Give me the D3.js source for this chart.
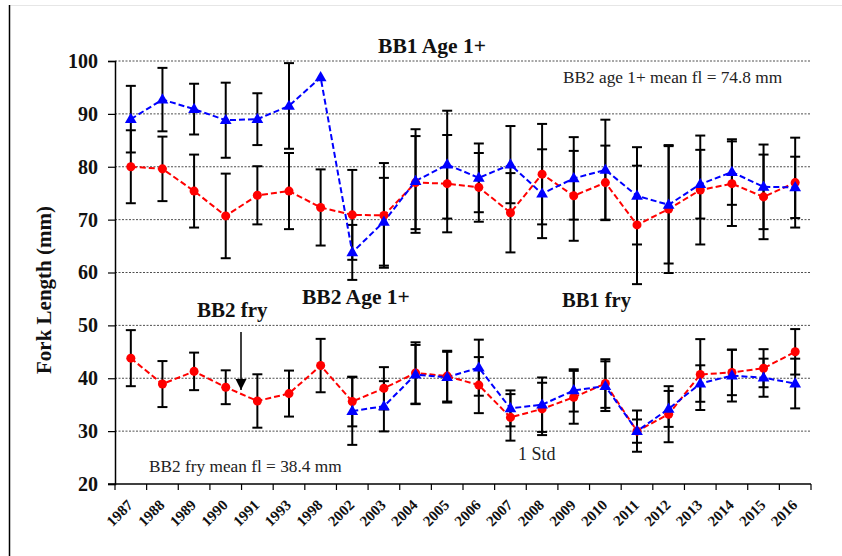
<!DOCTYPE html>
<html>
<head>
<meta charset="utf-8">
<script src="https://cdn.jsdelivr.net/npm/d3@7/dist/d3.min.js"></script>
<style>
  html, body { margin: 0; padding: 0; background: #fff; }
  svg { display: block; font-family: "Liberation Serif", "Times New Roman", serif; }
</style>
</head>
<body>
<svg id="chart" width="842" height="556"></svg>
<script>
// ---------- DATA ----------
const years = ["1987","1988","1989","1990","1991","1993","1998","2002","2003","2004","2005","2006","2007","2008","2009","2010","2011","2012","2013","2014","2015","2016"];

// Age 1+ (upper group)
const bb1Age1   = [89.0, 92.7, 90.9, 88.8, 89.0, 91.5, 96.9, 63.8, 69.6, 77.3, 80.4, 77.9, 80.4, 74.9, 77.8, 79.4, 74.5, 72.8, 76.7, 79.0, 76.2, 76.1];
const bb1Age1Sd = [6.3, 6.0, 4.8, 7.1, 4.9, 8.1, null, 5.2, 8.3, 9.8, 10.2, 6.5, 7.3, 8.4, 7.8, 9.5, 9.2, 11.1, 6.5, 6.2, 8.0, 5.8];
const bb2Age1   = [80.0, 79.6, 75.4, 70.7, 74.6, 75.4, 72.3, 70.9, 70.8, 77.0, 76.8, 76.1, 71.3, 78.6, 74.5, 77.0, 69.0, 72.0, 75.6, 76.8, 74.3, 77.0];
const bb2Age1Sd = [6.9, 6.1, 6.9, 8.0, 5.5, 7.2, 7.2, 8.5, 9.9, 8.8, 9.2, 6.5, 7.5, 9.5, 8.5, 7.0, 11.2, 12.1, 10.3, 8.0, 8.0, 8.5];

// Fry (lower group)
const bb1Fry   = [null, null, null, null, null, null, null, 33.8, 34.7, 40.7, 40.2, 42.0, 34.3, 35.0, 37.7, 38.5, 30.0, 34.2, 39.0, 40.5, 40.1, 39.0];
const bb1FrySd = [null, null, null, null, null, null, null, 6.4, 4.75, 5.6, 4.8, 5.3, 3.4, 5.15, 4.0, 4.7, 2.2, 3.4, 3.45, 4.9, 3.6, 4.7];
const bb2Fry   = [43.8, 38.9, 41.3, 38.3, 35.7, 37.1, 42.4, 35.6, 38.1, 41.0, 40.4, 38.7, 32.6, 34.2, 36.4, 39.0, 30.0, 33.2, 40.7, 41.1, 41.9, 45.0];
const bb2FrySd = [5.3, 4.35, 3.55, 3.2, 5.05, 4.35, 5.05, 4.7, 4.0, 5.8, 4.8, 5.3, 4.4, 4.95, 5.0, 4.6, 3.9, 5.3, 6.7, 4.3, 3.6, 4.3];

const yTicks = [20, 30, 40, 50, 60, 70, 80, 90, 100];
const yTitle = "Fork Length (mm)";
const notes = [
  {text: "BB1 Age 1+", x: 432, y: 53, bold: true, anchor: "middle", size: 21.5},
  {text: "BB2 age 1+ mean fl = 74.8 mm", x: 563, y: 83, bold: false, anchor: "start", size: 17.3},
  {text: "BB2 Age 1+", x: 302, y: 304, bold: true, anchor: "start", size: 21.5},
  {text: "BB1 fry", x: 562, y: 307, bold: true, anchor: "start", size: 20.5},
  {text: "BB2 fry", x: 197, y: 317, bold: true, anchor: "start", size: 21},
  {text: "BB2 fry mean fl = 38.4 mm", x: 149, y: 472, bold: false, anchor: "start", size: 17.3},
  {text: "1 Std", x: 518, y: 460, bold: false, anchor: "start", size: 18}
];

// ---------- CHART ----------
const svg = d3.select("#chart");
const L = 115, R = 811, T = 61, B = 484;

const x = d3.scaleBand().domain(years).range([L, R]).padding(0);
const y = d3.scaleLinear().domain([20, 100]).range([B, T]);
const cx = d => x(d) + x.bandwidth() / 2;

// frame
svg.append("line").attr("x1", 9).attr("x2", 842).attr("y1", 5.5).attr("y2", 5.5)
  .attr("stroke", "#e6e6e6").attr("stroke-width", 1);
svg.append("line").attr("x1", 9.5).attr("x2", 9.5).attr("y1", 5).attr("y2", 556)
  .attr("stroke", "#000").attr("stroke-width", 1.5);

// gridlines
svg.append("g").selectAll("line").data(yTicks.filter(v => v > 20)).join("line")
  .attr("x1", L).attr("x2", R)
  .attr("y1", d => y(d)).attr("y2", d => y(d))
  .attr("stroke", "#222").attr("stroke-width", 0.8)
  .attr("stroke-dasharray", "2,1.5");

// y axis
const yAxis = svg.append("g").attr("transform", `translate(${L},0)`)
  .call(d3.axisLeft(y).tickValues(yTicks).tickSize(7).tickPadding(10).tickFormat(d3.format("d")));
yAxis.attr("font-family", null);
yAxis.select(".domain").attr("stroke", "#000").attr("stroke-width", 1.5);
yAxis.selectAll(".tick line").attr("stroke", "#000").attr("stroke-width", 1.2);
yAxis.selectAll(".tick text").attr("font-family", "Liberation Serif").attr("font-weight", "bold")
  .attr("font-size", 20).attr("fill", "#111");

// x axis
const xAxis = svg.append("g").attr("transform", `translate(0,${B})`)
  .call(d3.axisBottom(x).tickSize(0).tickPadding(0));
xAxis.attr("font-family", null);
xAxis.select(".domain").remove();
xAxis.selectAll(".tick text")
  .attr("font-family", "Liberation Serif").attr("font-weight", "bold").attr("font-size", 15)
  .attr("fill", "#111")
  .attr("text-anchor", "end")
  .attr("transform", "translate(3,22) rotate(-45)")
  .attr("dy", 0).attr("y", 0);
svg.append("line").attr("x1", L - 7).attr("x2", R).attr("y1", B).attr("y2", B)
  .attr("stroke", "#000").attr("stroke-width", 1.5);
const bounds = years.map(d => x(d)).concat([R]);
svg.append("g").selectAll("line").data(bounds).join("line")
  .attr("x1", d => d).attr("x2", d => d).attr("y1", B).attr("y2", B + 6)
  .attr("stroke", "#000").attr("stroke-width", 1.2);

// series definitions
const series = [
  {vals: bb2Age1, sd: bb2Age1Sd, color: "#ff0000", shape: "circle"},
  {vals: bb2Fry,  sd: bb2FrySd,  color: "#ff0000", shape: "circle"},
  {vals: bb1Age1, sd: bb1Age1Sd, color: "#0000ff", shape: "triangle"},
  {vals: bb1Fry,  sd: bb1FrySd,  color: "#0000ff", shape: "triangle"}
];

// error bars
const eb = svg.append("g");
series.forEach(s => {
  const pts = years.map((yr, i) => ({yr, v: s.vals[i], sd: s.sd[i]})).filter(p => p.v != null && p.sd != null);
  const g = eb.append("g").attr("stroke", "#000").attr("stroke-width", 2);
  g.selectAll(".v").data(pts).join("line")
    .attr("x1", p => cx(p.yr)).attr("x2", p => cx(p.yr))
    .attr("y1", p => y(p.v + p.sd)).attr("y2", p => y(p.v - p.sd));
  g.selectAll(".t").data(pts).join("line")
    .attr("x1", p => cx(p.yr) - 5).attr("x2", p => cx(p.yr) + 5)
    .attr("y1", p => y(p.v + p.sd)).attr("y2", p => y(p.v + p.sd));
  g.selectAll(".b").data(pts).join("line")
    .attr("x1", p => cx(p.yr) - 5).attr("x2", p => cx(p.yr) + 5)
    .attr("y1", p => y(p.v - p.sd)).attr("y2", p => y(p.v - p.sd));
});

// lines and markers
series.forEach(s => {
  const pts = years.map((yr, i) => ({yr, v: s.vals[i]})).filter(p => p.v != null);
  const line = d3.line().x(p => cx(p.yr)).y(p => y(p.v));
  svg.append("path").datum(pts).attr("d", line)
    .attr("fill", "none").attr("stroke", s.color).attr("stroke-width", 2)
    .attr("stroke-dasharray", "6,3");
});
series.forEach(s => {
  const pts = years.map((yr, i) => ({yr, v: s.vals[i]})).filter(p => p.v != null);
  const sym = d3.symbol().type(s.shape === "circle" ? d3.symbolCircle : d3.symbolTriangle)
    .size(s.shape === "circle" ? 64 : 60);
  svg.append("g").selectAll("path").data(pts).join("path")
    .attr("d", sym)
    .attr("transform", p => `translate(${cx(p.yr)},${y(p.v) + (s.shape === "circle" ? 0 : 0.5)})`)
    .attr("fill", s.color);
});

// annotations
svg.append("g").selectAll("text").data(notes).join("text")
  .attr("x", d => d.x).attr("y", d => d.y)
  .attr("text-anchor", d => d.anchor)
  .attr("font-weight", d => d.bold ? "bold" : "normal")
  .attr("font-size", d => d.size)
  .attr("fill", d => d.bold ? "#111" : "#222")
  .text(d => d.text);

// arrow
svg.append("defs").append("marker").attr("id", "ah")
  .attr("viewBox", "0 0 10 10").attr("refX", 10).attr("refY", 5)
  .attr("markerWidth", 11).attr("markerHeight", 13).attr("markerUnits", "userSpaceOnUse")
  .attr("orient", "auto")
  .append("path").attr("d", "M0,0 L10,5 L0,10 Z").attr("fill", "#000");
svg.append("line").attr("x1", 241).attr("x2", 241).attr("y1", 332).attr("y2", 390)
  .attr("stroke", "#000").attr("stroke-width", 1.5).attr("marker-end", "url(#ah)");

// y title
svg.append("text")
  .attr("transform", "translate(50.5,290) rotate(-90)")
  .attr("text-anchor", "middle").attr("font-weight", "bold").attr("font-size", 21)
  .attr("fill", "#111")
  .text(yTitle);
</script>
</body>
</html>
